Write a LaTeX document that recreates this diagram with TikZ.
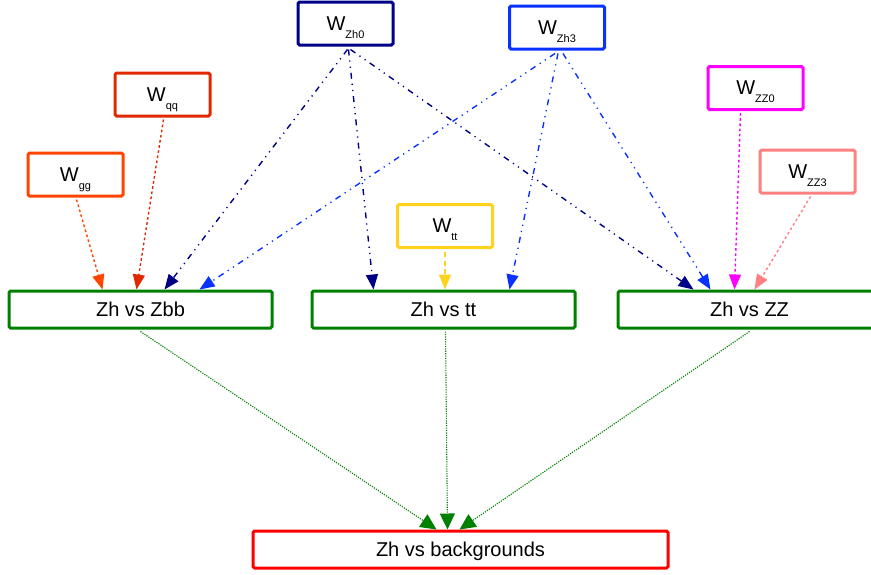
\documentclass[tikz,border=0pt]{standalone}
\usepackage{fontspec}
\setmainfont{Liberation Sans}
\usetikzlibrary{arrows.meta,calc}

\definecolor{cZhzero}{RGB}{0,0,135}
\definecolor{cZhthree}{RGB}{10,50,255}
\definecolor{cQQ}{RGB}{225,40,0}
\definecolor{cGG}{RGB}{255,69,0}
\definecolor{cZZzero}{RGB}{255,0,255}
\definecolor{cZZthree}{RGB}{255,128,128}
\definecolor{cTT}{RGB}{255,210,30}
\definecolor{cGreen}{RGB}{0,128,0}
\definecolor{cRed}{RGB}{255,0,0}

\newcommand{\wlabel}[1]{W\raisebox{-4pt}[0pt][0pt]{\fontsize{5.5}{6}\selectfont #1}}

\tikzset{
  wbox/.style={draw=#1, line width=1.5pt, rounded corners=0.8pt,
    minimum width=47.5pt, minimum height=21.5pt, inner sep=0pt,
    font=\fontsize{10}{12}\selectfont},
  chanbox/.style={draw=#1, line width=1.5pt, rounded corners=0.8pt,
    minimum width=131.5pt, minimum height=18.5pt, inner sep=0pt,
    text height=9.4pt, text depth=2pt,
    font=\fontsize{10}{12}\selectfont},
  link/.style={draw=#1, line width=0.7pt, -{Triangle[length=7.5pt,width=6pt]}},
  dotlink/.style={link=#1, dash pattern=on 1.3pt off 1.3pt},
  ddlink/.style={link=#1, dash pattern=on 3pt off 2.5pt on 0.6pt off 2.5pt on 0.6pt off 2.5pt},
  greenlink/.style={link=cGreen, line width=0.55pt, dash pattern=on 0.6pt off 0.6pt,
    -{Triangle[length=8pt,width=7.5pt]}},
}

\begin{document}
\begin{tikzpicture}[x=0.5pt,y=-0.5pt]
  \useasboundingbox (0,0) rectangle (871,574);

  % weight nodes
  \node[wbox=cZhzero]  (zh0) at (345.5,23.5)  {\wlabel{Zh0}};
  \node[wbox=cZhthree] (zh3) at (557,27.5)    {\wlabel{Zh3}};
  \node[wbox=cQQ]      (qq)  at (162.5,94.5)  {\wlabel{qq}};
  \node[wbox=cGG]      (gg)  at (75.5,174.5)  {\wlabel{gg}};
  \node[wbox=cZZzero]  (zz0) at (755.5,88)    {\wlabel{ZZ0}};
  \node[wbox=cZZthree] (zz3) at (807.5,171.5) {\wlabel{ZZ3}};
  \node[wbox=cTT]      (wtt) at (445,226)     {\wlabel{tt}};

  % channel nodes
  \node[chanbox=cGreen] (zbb) at (140.5,309.5) {Zh vs Zbb};
  \node[chanbox=cGreen] (ctt) at (443.5,309.5) {Zh vs tt};
  \node[chanbox=cGreen] (czz) at (749.5,309.5) {Zh vs ZZ};
  \node[chanbox=cRed, minimum width=207.5pt] (bg) at (460.5,549.5) {Zh vs backgrounds};

  % weights into channels
  \draw[dotlink=cGG] ($(gg.south)+(1,2)$) -- ($(zbb.north west)+(95,0)$);
  \draw[dotlink=cQQ] ($(qq.south)+(1,2)$) -- ($(zbb.north west)+(129,0)$);
  \draw[link=cTT, dash pattern=on 2.5pt off 1.8pt] ($(wtt.south)+(0,3)$) -- ($(ctt.north)+(1.5,0)$);
  \draw[dotlink=cZZzero] ($(zz0.south)+(-15,2)$) -- ($(czz.north west)+(118,0)$);
  \draw[dotlink=cZZthree] ($(zz3.south)+(3,2)$) -- ($(czz.north west)+(138,0)$);

  \draw[ddlink=cZhzero] ($(zh0.south)+(2,3)$) -- ($(zbb.north west)+(157,0)$);
  \draw[ddlink=cZhzero] ($(zh0.south)+(3,3)$) -- ($(ctt.north west)+(63,0)$);
  \draw[ddlink=cZhzero] ($(zh0.south)+(5,3)$) -- ($(czz.north west)+(77,0)$);

  \draw[ddlink=cZhthree] ($(zh3.south)+(-2,3)$) -- ($(zbb.north west)+(192,0)$);
  \draw[ddlink=cZhthree] ($(zh3.south)+(1,3)$) -- ($(ctt.north west)+(199,0)$);
  \draw[ddlink=cZhthree] ($(zh3.south)+(6,3)$) -- ($(czz.north west)+(94,0)$);

  % channels into the combination
  \draw[greenlink] ($(zbb.south)+(0,2)$) -- ($(bg.north west)+(185,0)$);
  \draw[greenlink] ($(ctt.south)+(2,2)$) -- ($(bg.north west)+(196,0)$);
  \draw[greenlink] ($(czz.south)+(0,2)$) -- ($(bg.north west)+(208,0)$);
\end{tikzpicture}
\end{document}
